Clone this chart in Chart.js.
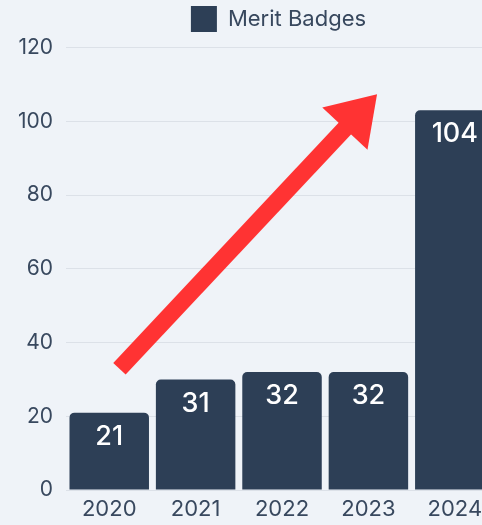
<!DOCTYPE html>
<html>
<head>
<meta charset="utf-8">
<script src="https://cdn.jsdelivr.net/npm/chart.js@4.4.1/dist/chart.umd.min.js"></script>
<style>
  html, body { margin:0; padding:0; background:#eff3f8; overflow:hidden; }
  #wrap { width:552px; height:525px; }
</style>
</head>
<body>
<div id="wrap"><canvas id="chart"></canvas></div>
<script>
const years = ['2020', '2021', '2022', '2023', '2024'];
// bar heights as drawn, and the numbers printed on them
const badges = [21, 30, 32, 32, 103];
const badgeLabels = ['21', '31', '32', '32', '104'];
// arrow anchored to data coordinates [category index, value]
const arrowFrom = [0.118, 32.9];
const arrowTo = [3.1, 107.3];

const textColor = '#38485e';
const barColor = '#2d3f56';

// a bit more room under the legend
const legendGap = {
  id: 'legendGap',
  beforeLayout(chart) {
    const lg = chart.legend;
    if (lg && !lg._gapPatched) {
      const fit = lg.fit;
      lg.fit = function() { fit.call(this); this.height += 5.5; };
      lg._gapPatched = true;
    }
  }
};

// white value labels near the top of each bar
const barLabels = {
  id: 'barLabels',
  afterDatasetsDraw(chart) {
    const ctx = chart.ctx;
    const meta = chart.getDatasetMeta(0);
    ctx.save();
    ctx.fillStyle = '#ffffff';
    ctx.font = '500 27px Inter';
    ctx.textAlign = 'center';
    ctx.textBaseline = 'middle';
    meta.data.forEach((bar, i) => {
      ctx.fillText(badgeLabels[i], bar.x, bar.y + 24);
    });
    ctx.restore();
  }
};

const trendArrow = {
  id: 'trendArrow',
  afterDraw(chart) {
    const {ctx, scales:{x, y}} = chart;
    const x1 = x.getPixelForValue(arrowFrom[0]), y1 = y.getPixelForValue(arrowFrom[1]);
    const x2 = x.getPixelForValue(arrowTo[0]), y2 = y.getPixelForValue(arrowTo[1]);
    const ang = Math.atan2(y2 - y1, x2 - x1);
    const headLen = 47, headHalf = 31;
    const bx = x2 - Math.cos(ang) * headLen, by = y2 - Math.sin(ang) * headLen;
    ctx.save();
    ctx.strokeStyle = '#ff3333';
    ctx.fillStyle = '#ff3333';
    ctx.lineWidth = 17;
    ctx.lineCap = 'butt';
    ctx.beginPath();
    ctx.moveTo(x1, y1);
    ctx.lineTo(bx + Math.cos(ang) * 4, by + Math.sin(ang) * 4);
    ctx.stroke();
    ctx.beginPath();
    ctx.moveTo(x2, y2);
    ctx.lineTo(bx + Math.sin(ang) * headHalf, by - Math.cos(ang) * headHalf);
    ctx.lineTo(bx - Math.sin(ang) * headHalf, by + Math.cos(ang) * headHalf);
    ctx.closePath();
    ctx.fill();
    ctx.restore();
  }
};

new Chart(document.getElementById('chart'), {
  type: 'bar',
  data: {
    labels: years,
    datasets: [{
      label: 'Merit Badges',
      data: badges,
      backgroundColor: barColor,
      borderWidth: 0,
      borderRadius: 5,
      barPercentage: 0.92,
      categoryPercentage: 1.0
    }]
  },
  options: {
    responsive: true,
    maintainAspectRatio: false,
    animation: false,
    layout: { padding: { left: 5, top: -6.5, right: 0, bottom: -3.5 } },
    plugins: {
      legend: {
        labels: {
          color: textColor,
          font: { family: 'Inter', size: 22 },
          boxWidth: 26,
          boxHeight: 26,
          padding: 12.5
        }
      },
      tooltip: { enabled: false }
    },
    scales: {
      x: {
        grid: { display: false, drawTicks: false },
        border: { display: false },
        ticks: { color: textColor, font: { family: 'Inter', size: 22 }, padding: 6 }
      },
      y: {
        min: 0,
        max: 120,
        ticks: { stepSize: 20, color: textColor, font: { family: 'Inter', size: 21 }, padding: 13 },
        grid: { color: '#dce1e8', drawTicks: false },
        border: { display: false }
      },
      // empty space on the right, cut off in the picture
      yRight: {
        position: 'right',
        grid: { display: false },
        border: { display: false },
        ticks: { display: false },
        afterFit(scale) { scale.width = 54; }
      }
    }
  },
  plugins: [legendGap, barLabels, trendArrow]
});
</script>
</body>
</html>
